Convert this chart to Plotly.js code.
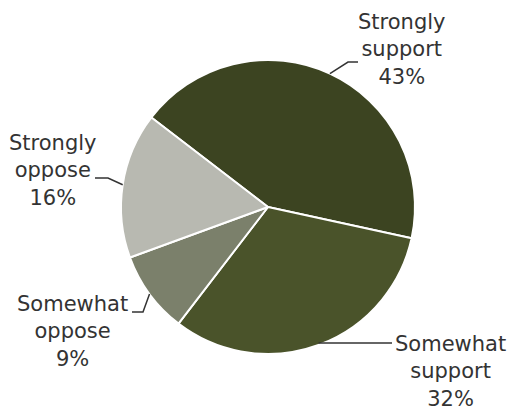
<!DOCTYPE html>
<html>
<head>
<meta charset="utf-8">
<script src="https://cdn.plot.ly/plotly-3.0.1.min.js"></script>
<style>html,body{margin:0;padding:0;background:#fff;}#chart{width:510px;height:412px;}</style>
</head>
<body>
<div id="chart"></div>
<script>
// Data
var labels = ["Strongly support", "Somewhat support", "Somewhat oppose", "Strongly oppose"];
var displayLabels = ["Strongly<br>support", "Somewhat<br>support", "Somewhat<br>oppose", "Strongly<br>oppose"];
var values = [43, 32, 9, 16];
var colors = ["#3c4421", "#4a532a", "#7b806b", "#b8b9b1"];

// Layout constants (pixels)
var W = 510, H = 412;
var cx = 268, cy = 207, R = 147;
var rotation = -52.5;
// label anchor centers and leader-line elbow/end points
var labelPos = [[402, 50], [450, 371], [72, 331], [53, 170]];
var elbows = [[[348, 62], [358, 62]], [[392, 343]], [[143, 312], [132, 312]], [[108, 178], [95, 178]]];

function px(x) { return x / W; }
function py(y) { return 1 - y / H; }

var total = values.reduce(function (a, b) { return a + b; }, 0);
var cum = 0;
var shapes = [], annotations = [];
values.forEach(function (v, i) {
  var mid = rotation + (cum + v / 2) / total * 360;
  cum += v;
  var a = mid * Math.PI / 180;
  var sx = cx + R * Math.sin(a), sy = cy - R * Math.cos(a);
  var pts = elbows[i].slice();
  if (i === 1) { sy = pts[0][1]; }
  var path = "M " + px(sx) + "," + py(sy);
  pts.forEach(function (p) { path += " L " + px(p[0]) + "," + py(p[1]); });
  shapes.push({type: "path", xref: "paper", yref: "paper", path: path,
    line: {color: "#333333", width: 1.5}});
  annotations.push({xref: "paper", yref: "paper", x: px(labelPos[i][0]), y: py(labelPos[i][1]),
    xanchor: "center", yanchor: "middle", showarrow: false, align: "center",
    text: displayLabels[i] + "<br>" + Math.round(v / total * 100) + "%",
    font: {family: "DejaVu Sans, Verdana, sans-serif", size: 21, color: "#333333"}});
});

var trace = {
  type: "pie",
  labels: labels,
  values: values,
  sort: false,
  direction: "clockwise",
  rotation: rotation,
  textinfo: "none",
  hoverinfo: "label+percent",
  marker: {colors: colors, line: {color: "#ffffff", width: 2}},
  domain: {x: [px(cx - R), px(cx + R)], y: [py(cy + R), py(cy - R)]}
};

var layout = {
  width: W, height: H,
  margin: {l: 0, r: 0, t: 0, b: 0},
  showlegend: false,
  paper_bgcolor: "#ffffff",
  shapes: shapes,
  annotations: annotations
};

Plotly.newPlot("chart", [trace], layout, {displayModeBar: false, staticPlot: true});
</script>
</body>
</html>
